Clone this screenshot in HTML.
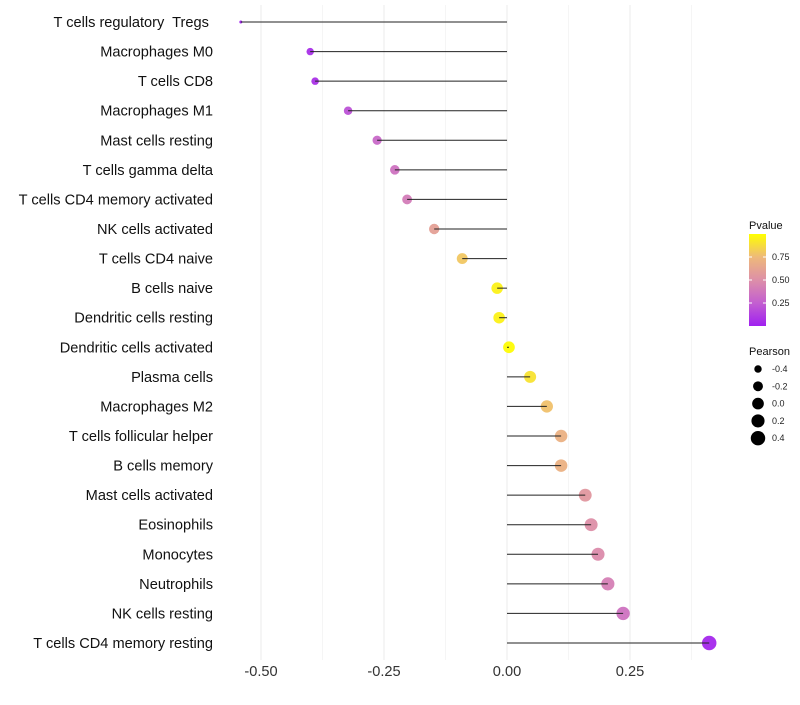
<!DOCTYPE html>
<html><head><meta charset="utf-8"><style>
body{margin:0;background:#fff;font-family:"Liberation Sans",sans-serif}
text{white-space:pre}
</style></head><body>
<svg id="c" width="800" height="700" xmlns="http://www.w3.org/2000/svg">
<defs><linearGradient id="g" x1="0" y1="1" x2="0" y2="0">
<stop offset="0" stop-color="#a020f0"/><stop offset="0.25" stop-color="#c35fd0"/><stop offset="0.5" stop-color="#dd8fa8"/><stop offset="0.75" stop-color="#eeb97a"/><stop offset="1" stop-color="#ffff00"/></linearGradient></defs>
</svg>
<script>
const categories=["T cells regulatory  Tregs ","Macrophages M0","T cells CD8","Macrophages M1","Mast cells resting","T cells gamma delta","T cells CD4 memory activated","NK cells activated","T cells CD4 naive","B cells naive","Dendritic cells resting","Dendritic cells activated","Plasma cells","Macrophages M2","T cells follicular helper","B cells memory","Mast cells activated","Eosinophils","Monocytes","Neutrophils","NK cells resting","T cells CD4 memory resting"];
const pearson=[-0.541,-0.400,-0.390,-0.323,-0.264,-0.228,-0.203,-0.148,-0.091,-0.020,-0.016,0.004,0.047,0.081,0.110,0.110,0.159,0.171,0.185,0.205,0.236,0.411];
const pvalue=[0.0,0.06,0.07,0.2,0.3,0.35,0.4,0.6,0.8,0.95,0.95,0.99,0.9,0.78,0.7,0.7,0.55,0.5,0.48,0.42,0.35,0.03];
const xTicks=[-0.5,-0.25,0,0.25];
const xTickLabels=["-0.50","-0.25","0.00","0.25"];
const pTicks=[0.25,0.5,0.75];
const sizeKeys=[-0.4,-0.2,0.0,0.2,0.4];
const svg=document.getElementById('c');const NS="http://www.w3.org/2000/svg";
function x(v){return 507+v*492;}
function y(i){return 22+i*(621/(categories.length-1));}
const pMin=Math.min(...pearson),pMax=Math.max(...pearson);
function dia(v){const t=Math.max(0,Math.min(1,(v-pMin)/(pMax-pMin)));return 3+11.5*Math.sqrt(t);}
const stops=[[0,[160,32,240]],[0.25,[195,95,208]],[0.5,[221,143,168]],[0.75,[238,185,122]],[1,[255,255,0]]];
function col(p){for(let k=1;k<stops.length;k++){if(p<=stops[k][0]){const a=stops[k-1],b=stops[k],t=(p-a[0])/(b[0]-a[0]);return 'rgb('+a[1].map((c,j)=>Math.round(c+(b[1][j]-c)*t)).join(',')+')';}}return 'rgb(255,255,0)';}
function mk(t,a,p){const e=document.createElementNS(NS,t);for(const k in a)e.setAttribute(k,a[k]);(p||svg).appendChild(e);return e;}
for(let v=-0.5;v<=0.4;v+=0.125){const g=mk('line',{x1:x(v),x2:x(v),y1:5,y2:660,stroke:'#ebebeb','stroke-width':Math.abs(v*4-Math.round(v*4))<1e-6?1:0.5});

}
xTicks.forEach((v,i)=>{const t=mk('text',{x:x(v),y:676,'text-anchor':'middle','font-size':14.6,fill:'#333'});t.textContent=xTickLabels[i];

});
categories.forEach((c,i)=>{
const t=mk('text',{x:213,y:y(i)+5,'text-anchor':'end','font-size':14.6,fill:'#111'});t.textContent=c;


const d=mk('circle',{cx:x(pearson[i]),cy:y(i),r:dia(pearson[i])/2,fill:col(pvalue[i]),'fill-opacity':0.95});


const l=mk('line',{x1:x(0),x2:x(pearson[i]),y1:y(i),y2:y(i),stroke:'#222','stroke-width':1});


});
let tt=mk('text',{x:749,y:229,'font-size':11,fill:'#111'});tt.textContent='Pvalue';


const bar=mk('rect',{x:749,y:234,width:17,height:92,fill:'url(#g)'});


pTicks.forEach(p=>{const yy=326-p*92;mk('line',{x1:749,x2:752,y1:yy,y2:yy,stroke:'#fff'});mk('line',{x1:763,x2:766,y1:yy,y2:yy,stroke:'#fff'});
const t=mk('text',{x:772,y:yy+3,'font-size':9,fill:'#222'});t.textContent=p.toFixed(2);

});
tt=mk('text',{x:749,y:355,'font-size':11,fill:'#111'});tt.textContent='Pearson';


sizeKeys.forEach((v,i)=>{const yy=369+i*17.3;
const c=mk('circle',{cx:758,cy:yy,r:dia(v)/2,fill:'#000'});


const t=mk('text',{x:772,y:yy+3,'font-size':9,fill:'#222'});t.textContent=v.toFixed(1);

});
</script>
</body></html>
